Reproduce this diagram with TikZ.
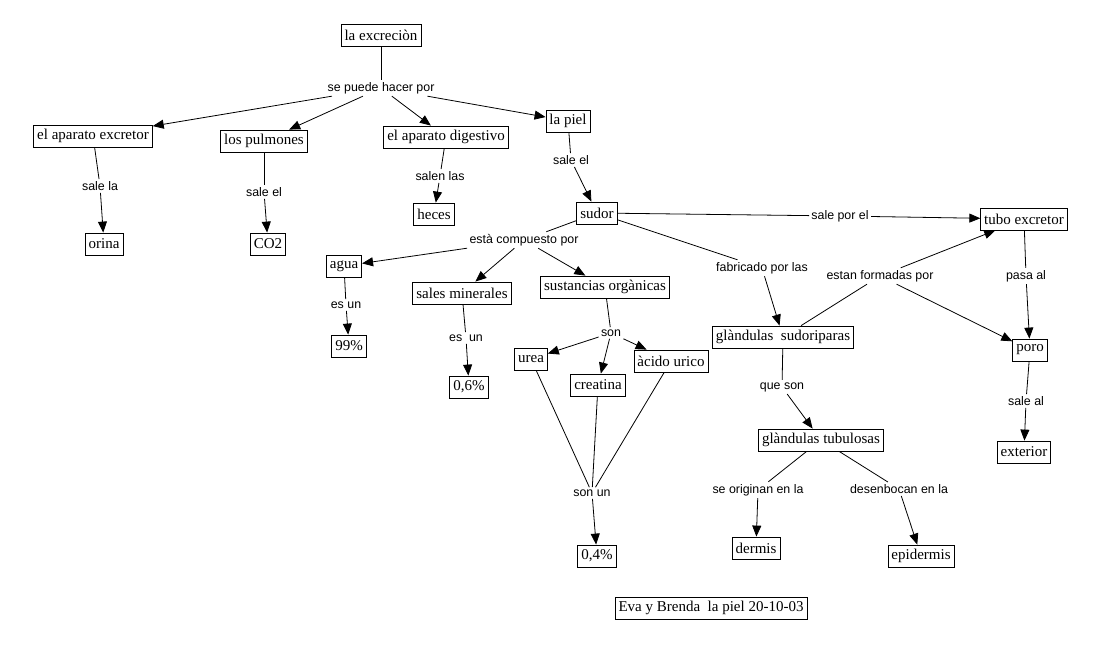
\documentclass[tikz,border=0pt]{standalone}
\usepackage{fontspec}
\setmainfont{Liberation Serif}
\setsansfont{Liberation Sans}
\usetikzlibrary{arrows.meta}

\begin{document}
\begin{tikzpicture}[x=1pt, y=-1pt, line width=0.8pt,
    concept/.style={draw, font=\fontsize{15}{17}\selectfont, inner xsep=3.5pt, inner ysep=2pt, minimum height=22pt},
    link/.style={font=\sffamily\fontsize{12.4}{14}\selectfont, inner sep=2pt},
    arr/.style={-{Triangle[length=11pt, width=9pt]}}]
      \useasboundingbox (0, 0) rectangle (1110, 660);
      \node[concept] (excrecion) at (381, 35) {la excreciòn};
      \node[link] (hacer) at (381, 88) {se puede hacer por};
      \node[concept] (aexcretor) at (93, 136) {el aparato excretor};
      \node[concept] (pulmones) at (264, 141) {los pulmones};
      \node[concept] (digestivo) at (446, 137) {el aparato digestivo};
      \node[concept] (piel) at (568, 121) {la piel};
      \node[link] (salela) at (100, 186) {sale la};
      \node[concept] (orina) at (104, 244) {orina};
      \node[link] (saleco) at (264, 192) {sale el};
      \node[concept] (co) at (268, 244) {CO2};
      \node[link] (salenlas) at (440, 176) {salen las};
      \node[concept] (heces) at (434, 214) {heces};
      \node[link] (salesudor) at (571, 160) {sale el};
      \node[concept] (sudor) at (597, 213) {sudor};
      \node[link] (compuesto) at (524, 240) {està compuesto por};
      \node[concept] (agua) at (344, 266) {agua};
      \node[concept] (sales) at (462, 293) {sales minerales};
      \node[concept] (organicas) at (605, 287) {sustancias orgànicas};
      \node[link] (esunagua) at (346, 305) {es un};
      \node[concept] (nn) at (349, 346) {99\%};
      \node[link] (esunsales) at (466, 338) {es~ un};
      \node[concept] (cero6) at (469, 387) {0,6\%};
      \node[link] (son) at (611, 333) {son};
      \node[concept] (urea) at (531, 359) {urea};
      \node[concept] (creatina) at (598, 385) {creatina};
      \node[concept] (acido) at (671, 361) {àcido urico};
      \node[link] (sonun) at (592, 493) {son un};
      \node[concept] (cero4) at (597, 556) {0,4\%};
      \node[link] (fabricado) at (762, 268) {fabricado por las};
      \node[concept] (sudoriparas) at (783, 337) {glàndulas~ sudoriparas};
      \node[link] (queson) at (782, 387) {que son};
      \node[concept] (tubulosas) at (821, 440) {glàndulas tubulosas};
      \node[link] (originan) at (758, 490) {se originan en la};
      \node[concept] (dermis) at (756, 548) {dermis};
      \node[link] (desenbocan) at (899, 489) {desenbocan en la};
      \node[concept] (epidermis) at (921, 556) {epidermis};
      \node[concept] (tubo) at (1024, 219) {tubo excretor};
      \node[link] (salepor) at (840, 216) {sale por el};
      \node[link] (formadas) at (880, 276) {estan formadas por};
      \node[link] (pasaal) at (1026, 276) {pasa al};
      \node[concept] (poro) at (1030, 350) {poro};
      \node[link] (saleal) at (1026, 401) {sale al};
      \node[concept] (exterior) at (1024, 452) {exterior};
      \node[concept] (firma) at (711, 608) {Eva y Brenda~ la piel 20-10-03};
      \draw (excrecion) -- (hacer);
      \draw[arr] (hacer) -- (aexcretor);
      \draw[arr] (hacer) -- (pulmones);
      \draw[arr] (hacer) -- (digestivo);
      \draw[arr] (hacer) -- (piel);
      \draw (aexcretor) -- (salela);
      \draw[arr] (salela) -- (orina);
      \draw (pulmones) -- (saleco);
      \draw[arr] (saleco) -- (co);
      \draw (digestivo) -- (salenlas);
      \draw[arr] (salenlas) -- (heces);
      \draw (piel) -- (salesudor);
      \draw[arr] (salesudor) -- (sudor);
      \draw (sudor) -- (compuesto);
      \draw[arr] (compuesto) -- (agua);
      \draw[arr] (compuesto) -- (sales);
      \draw[arr] (compuesto) -- (organicas);
      \draw (agua) -- (esunagua);
      \draw[arr] (esunagua) -- (nn);
      \draw (sales) -- (esunsales);
      \draw[arr] (esunsales) -- (cero6);
      \draw (organicas) -- (son);
      \draw[arr] (son) -- (urea);
      \draw[arr] (son) -- (creatina);
      \draw[arr] (son) -- (acido);
      \draw (urea) -- (sonun);
      \draw (creatina) -- (sonun);
      \draw (acido) -- (sonun);
      \draw[arr] (sonun) -- (cero4);
      \draw (sudor) -- (fabricado);
      \draw[arr] (fabricado) -- (sudoriparas);
      \draw (sudoriparas) -- (queson);
      \draw[arr] (queson) -- (tubulosas);
      \draw (tubulosas) -- (originan);
      \draw[arr] (originan) -- (dermis);
      \draw (tubulosas) -- (desenbocan);
      \draw[arr] (desenbocan) -- (epidermis);
      \draw (sudor) -- (salepor);
      \draw[arr] (salepor) -- (tubo);
      \draw (sudoriparas) -- (formadas);
      \draw[arr] (formadas) -- (tubo);
      \draw[arr] (formadas) -- (poro);
      \draw (tubo) -- (pasaal);
      \draw[arr] (pasaal) -- (poro);
      \draw (poro) -- (saleal);
      \draw[arr] (saleal) -- (exterior);
    \end{tikzpicture}
\end{document}
